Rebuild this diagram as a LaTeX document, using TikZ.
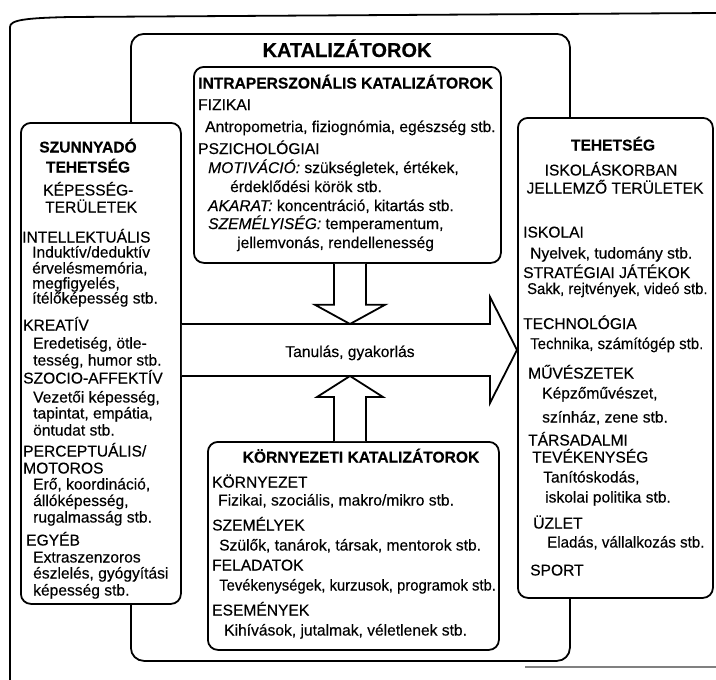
\documentclass[tikz,border=0pt]{standalone}
\usepackage{fontspec}
\setmainfont{Liberation Sans}[FakeBold=0.3]
\usetikzlibrary{calc}
\begin{document}
\begin{tikzpicture}[x=1pt,y=-1pt,
  panel/.style={draw, fill=white, line width=1.8pt, rounded corners=10pt, inner sep=0pt, anchor=north west},
  txt/.style={anchor=base west, inner sep=0pt, font=\fontsize{15.6}{18}\selectfont},
  ctxt/.style={anchor=base, inner sep=0pt, font=\fontsize{15.6}{18}\selectfont},
  hdr/.style={anchor=base, inner sep=0pt, font=\bfseries\fontsize{15.6}{18}\selectfont},
  blockarrow/.style={draw, fill=white, line width=1.8pt, line join=miter}]
\useasboundingbox (0,0) rectangle (716,680);

% page edge of the scan
\draw[line width=1.8pt] (716,13) -- (70,17) .. controls (25,18) and (10,20) .. (10,27) -- (10,680);
\draw[gray, line width=1.2pt] (525,667) -- (716,667);

% catalysts frame
\node[panel, rounded corners=13pt, minimum width=439pt, minimum height=627pt] (cat) at (130,33) {};
\node[anchor=base, inner sep=0pt, font=\bfseries\fontsize{20}{24}\selectfont] (cattitle) at (347,57) {KATALIZÁTOROK};

% side panels
\node[panel, minimum width=160pt, minimum height=481pt] (latent) at (20,122) {};
\node[panel, minimum width=195pt, minimum height=480pt] (talent) at (517,117) {};

% catalyst panels
\node[panel, minimum width=307pt, minimum height=196pt] (intra) at (193,66) {};
\node[panel, minimum width=291pt, minimum height=208pt] (env) at (207,441) {};

% flow arrow axis
\coordinate (ax) at (350,350);

% learning and practice: the main flow arrow
\draw[blockarrow] (latent.east |- 0,324) -- (490,324) -- (490,297)
  -- (talent.west |- ax) -- (490,403) -- (490,376) -- (latent.east |- 0,376);
\node[ctxt] (learn) at (350,357) {Tanulás, gyakorlás};

% intrapersonal catalysts feed in from above
\draw[blockarrow] ($(ax |- intra.south)+(-16,0)$) -- ++(0,41) -- ++(-19,0)
  -- (ax |- 0,324) -- ($(ax |- intra.south)+(35,41)$) -- ++(-19,0) -- ($(ax |- intra.south)+(16,0)$);

% environmental catalysts feed in from below
\draw[blockarrow] ($(ax |- env.north)+(-16,0)$) -- ++(0,-44) -- ++(-17,0)
  -- (ax |- 0,376) -- ($(ax |- env.north)+(33,-44)$) -- ++(-17,0) -- ($(ax |- env.north)+(16,0)$);

% --- latent talent ---
\node[hdr] (L1) at (88,152.5) {SZUNNYADÓ};
\node[hdr] (L2) at (88,172.5) {TEHETSÉG};
\node[txt] (L3) at (43,195.5) {KÉPESSÉG-};
\node[txt] (L4) at (45,212.5) {TERÜLETEK};
\node[txt] (L5) at (22,242.5) {INTELLEKTUÁLIS};
\node[txt] (L6) at (32,257.5) {Induktív/deduktív};
\node[txt] (L7) at (32,273.5) {érvelésmemória,};
\node[txt] (L8) at (32,288.5) {megfigyelés,};
\node[txt] (L9) at (32,303.5) {ítélőképesség stb.};
\node[txt] (L10) at (23,330.5) {KREATÍV};
\node[txt] (L11) at (33,348.5) {Eredetiség, ötle-};
\node[txt] (L12) at (33,365.5) {tesség, humor stb.};
\node[txt] (L13) at (23,383.5) {SZOCIO-AFFEKTÍV};
\node[txt] (L14) at (33,402.5) {Vezetői képesség,};
\node[txt] (L15) at (33,418.5) {tapintat, empátia,};
\node[txt] (L16) at (33,435.5) {öntudat stb.};
\node[txt] (L17) at (23,456.5) {PERCEPTUÁLIS/};
\node[txt] (L18) at (23,473.5) {MOTOROS};
\node[txt] (L19) at (33,489.5) {Erő, koordináció,};
\node[txt] (L20) at (33,506) {állóképesség,};
\node[txt] (L21) at (33,522.5) {rugalmasság stb.};
\node[txt] (L22) at (26,545.5) {EGYÉB};
\node[txt] (L23) at (33,562.5) {Extraszenzoros};
\node[txt] (L24) at (33,578.5) {észlelés, gyógyítási};
\node[txt] (L25) at (33,595.5) {képesség stb.};

% --- intrapersonal catalysts ---
\node[txt, font=\bfseries\fontsize{15.6}{18}\selectfont] (I1) at (198,88.5) {INTRAPERSZONÁLIS KATALIZÁTOROK};
\node[txt] (I2) at (198,110) {FIZIKAI};
\node[txt] (I3) at (205,132) {Antropometria, fiziognómia, egészség stb.};
\node[txt] (I4) at (198,154) {PSZICHOLÓGIAI};
\node[txt] (I5) at (208,173) {\textit{MOTIVÁCIÓ:} szükségletek, értékek,};
\node[txt] (I6) at (230,192) {érdeklődési körök stb.};
\node[txt] (I7) at (208,211) {\textit{AKARAT:} koncentráció, kitartás stb.};
\node[txt] (I8) at (208,229) {\textit{SZEMÉLYISÉG:} temperamentum,};
\node[txt] (I9) at (237,248) {jellemvonás, rendellenesség};

% --- environmental catalysts ---
\node[hdr] (E1) at (361,462.5) {KÖRNYEZETI KATALIZÁTOROK};
\node[txt] (E2) at (212,487.5) {KÖRNYEZET};
\node[txt] (E3) at (218,505.5) {Fizikai, szociális, makro/mikro stb.};
\node[txt] (E4) at (212,530.5) {SZEMÉLYEK};
\node[txt] (E5) at (219,550.5) {Szülők, tanárok, társak, mentorok stb.};
\node[txt] (E6) at (212,570.5) {FELADATOK};
\node[txt] (E7) at (219,590.5) {\scalebox{0.95}[1]{Tevékenységek, kurzusok, programok stb.}};
\node[txt] (E8) at (212,615.5) {ESEMÉNYEK};
\node[txt] (E9) at (224,635.5) {Kihívások, jutalmak, véletlenek stb.};

% --- talent in school-age domains ---
\node[hdr] (R1) at (613,150.5) {TEHETSÉG};
\node[ctxt] (R2) at (611,175.5) {ISKOLÁSKORBAN};
\node[ctxt] (R3) at (615,193.5) {JELLEMZŐ TERÜLETEK};
\node[txt] (R4) at (523,237.5) {ISKOLAI};
\node[txt] (R5) at (530,258.5) {Nyelvek, tudomány stb.};
\node[txt] (R6) at (523,278) {STRATÉGIAI JÁTÉKOK};
\node[txt] (R7) at (527,294) {\scalebox{0.95}[1]{Sakk, rejtvények, videó stb.}};
\node[txt] (R8) at (523,329) {TECHNOLÓGIA};
\node[txt] (R9) at (530,349) {\scalebox{0.96}[1]{Technika, számítógép stb.}};
\node[txt] (R10) at (528,378.5) {MŰVÉSZETEK};
\node[txt] (R11) at (542,398.5) {Képzőművészet,};
\node[txt] (R12) at (542,422.5) {színház, zene stb.};
\node[txt] (R13) at (528,445.5) {TÁRSADALMI};
\node[txt] (R14) at (532,462.5) {TEVÉKENYSÉG};
\node[txt] (R15) at (543,482.5) {Tanítóskodás,};
\node[txt] (R16) at (545,502.5) {iskolai politika stb.};
\node[txt] (R17) at (533,528.5) {ÜZLET};
\node[txt] (R18) at (547,547.5) {\scalebox{0.97}[1]{Eladás, vállalkozás stb.}};
\node[txt] (R19) at (530,575.5) {SPORT};
\end{tikzpicture}
\end{document}
